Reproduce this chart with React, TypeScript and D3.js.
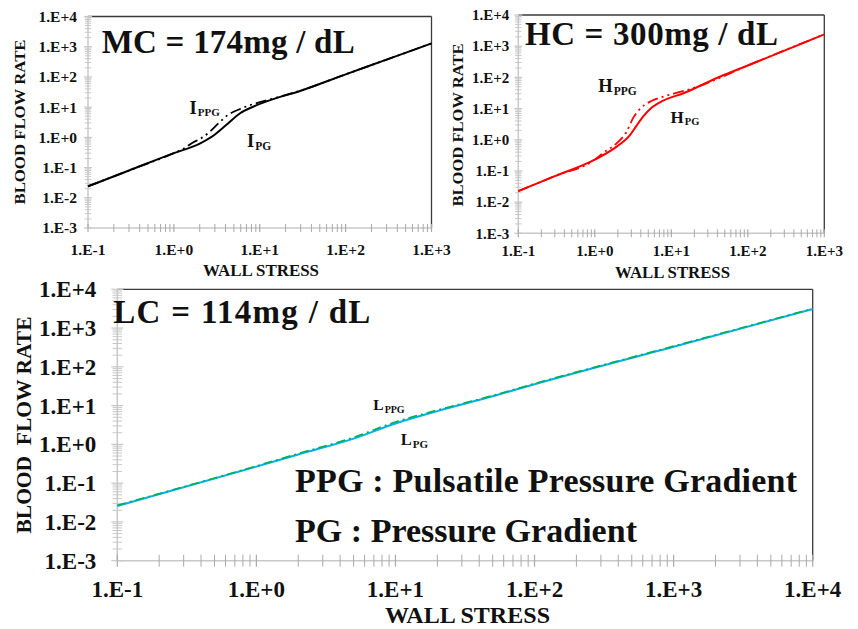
import React from "react";
import * as d3 from "d3";

// ---------- data ----------
const Y_TICKS = [1e-3, 1e-2, 1e-1, 1, 10, 100, 1000, 10000];
const Y_LABELS = ["1.E-3", "1.E-2", "1.E-1", "1.E+0", "1.E+1", "1.E+2", "1.E+3", "1.E+4"];
const X_TICKS_TOP = [0.1, 1, 10, 100, 1000];
const X_LABELS_TOP = ["1.E-1", "1.E+0", "1.E+1", "1.E+2", "1.E+3"];
const X_TICKS_BOTTOM = [0.1, 1, 10, 100, 1000, 10000];
const X_LABELS_BOTTOM = ["1.E-1", "1.E+0", "1.E+1", "1.E+2", "1.E+3", "1.E+4"];

const MC_PG_X = [0.1, 0.3, 1, 2, 2.9, 4.1, 5.9, 8.5, 12, 30, 100, 300, 1000];
const MC_PG_Y = [0.024, 0.08, 0.3, 0.62, 1.15, 2.6, 6.3, 10.5, 15.5, 35, 122, 373, 1290];
const MC_PPG_X = [0.1, 0.3, 1, 1.3, 1.6, 2.1, 2.6, 3.3, 4.3, 5.9, 7.4, 10, 16, 30, 100, 300, 1000];
const MC_PPG_Y = [0.024, 0.08, 0.3, 0.42, 0.63, 0.95, 1.5, 2.9, 5.6, 8.7, 11.2, 14.6, 21, 35.5, 122, 373, 1290];

const HC_PG_X = [0.1, 0.3, 1, 1.93, 2.88, 3.5, 4.3, 5.25, 7.85, 14.4, 43, 100, 1000];
const HC_PG_Y = [0.0225, 0.0683, 0.23, 0.6, 1.4, 2.8, 5.6, 9.5, 18, 31, 105, 240, 2400];
const HC_PPG_X = [0.1, 0.3, 1, 1.29, 1.93, 2.6, 3.2, 4.1, 5.5, 8.3, 11.7, 17.5, 30, 100, 1000];
const HC_PPG_Y = [0.0225, 0.0683, 0.23, 0.38, 0.77, 1.8, 5.2, 11, 17.5, 25, 32, 42, 67, 240, 2400];

const LC_PG_X = [0.1, 1, 2, 5, 10, 20, 50, 100, 1000, 10000];
const LC_PG_Y = [0.0257, 0.267, 0.55, 1.41, 3.47, 7.2, 17.4, 35.5, 330, 3090];
const LC_PPG_X = [0.1, 1, 2, 5, 10, 20, 50, 100, 1000, 10000];
const LC_PPG_Y = [0.0268, 0.278, 0.58, 1.52, 3.8, 7.7, 18.2, 37, 342, 3170];

const FONT = "'Liberation Serif', 'Times New Roman', serif";

type Series = { xs: number[]; ys: number[]; color: string; dash?: string; width: number };
type Label = { x: number; y: number; main: string; sub: string; size: number; subSize: number; subDy: number };

type PanelCfg = {
  left: number; right: number; top: number; bottom: number;
  xTicks: number[]; xLabels: string[];
  tickFont: number; xLabelY: number; yLabelGap: number;
  tickLen: number;
  xTitleX: number; xTitleY: number; xTitleSize: number; xTitleLen: number;
  yTitleX: number; yTitleY: number; yTitleSize: number; yTitleLen: number; yTitle: string;
  series: Series[];
  labels: Label[];
};

const MULTS = [2, 3, 4, 5, 6, 7, 8, 9];

function Panel({ c }: { c: PanelCfg }) {
  const xDom: [number, number] = [c.xTicks[0], c.xTicks[c.xTicks.length - 1]];
  const x = d3.scaleLog().domain(xDom).range([c.left, c.right]);
  const y = d3.scaleLog().domain([Y_TICKS[0], Y_TICKS[Y_TICKS.length - 1]]).range([c.bottom, c.top]);
  const line = d3
    .line<[number, number]>()
    .x((d) => x(d[0]))
    .y((d) => y(d[1]))
    .curve(d3.curveMonotoneX);
  const minorX = c.xTicks.slice(0, -1).flatMap((d) => MULTS.map((m) => d * m));
  const minorY = Y_TICKS.slice(0, -1).flatMap((d) => MULTS.map((m) => d * m));
  const axisColor = "#c8c8c8";
  const tl = c.tickLen;
  return (
    <g>
      <line x1={c.left} x2={c.right} y1={c.top} y2={c.top} stroke="#3a3a3a" strokeWidth={1.3} />
      <line x1={c.right} x2={c.right} y1={c.top} y2={c.bottom} stroke="#3a3a3a" strokeWidth={1.3} />
      <line x1={c.left} x2={c.right} y1={c.bottom} y2={c.bottom} stroke={axisColor} strokeWidth={1.5} />
      <line x1={c.left} x2={c.left} y1={c.top} y2={c.bottom} stroke={axisColor} strokeWidth={1.5} />
      {minorY.map((v, i) => (
        <line key={"my" + i} x1={c.left - tl * 0.8} x2={c.left + tl * 0.8} y1={y(v)} y2={y(v)} stroke={axisColor} strokeWidth={1} />
      ))}
      {Y_TICKS.map((v, i) => (
        <line key={"Y" + i} x1={c.left - tl} x2={c.left + tl} y1={y(v)} y2={y(v)} stroke={axisColor} strokeWidth={1.2} />
      ))}
      {minorX.map((v, i) => (
        <line key={"mx" + i} x1={x(v)} x2={x(v)} y1={c.bottom - tl} y2={c.bottom + tl} stroke="#aaaaaa" strokeWidth={1} />
      ))}
      {c.xTicks.map((v, i) => (
        <line key={"X" + i} x1={x(v)} x2={x(v)} y1={c.bottom - tl} y2={c.bottom + tl} stroke="#aaaaaa" strokeWidth={1.2} />
      ))}
      {Y_TICKS.map((v, i) => (
        <text key={"yl" + i} x={c.left - c.yLabelGap} y={y(v)} dy="0.35em" textAnchor="end"
          fontFamily={FONT} fontWeight="bold" fontSize={c.tickFont} fill="#111">
          {Y_LABELS[i]}
        </text>
      ))}
      {c.xTicks.map((v, i) => (
        <text key={"xl" + i} x={x(v)} y={c.xLabelY} textAnchor="middle"
          fontFamily={FONT} fontWeight="bold" fontSize={c.tickFont} fill="#111">
          {c.xLabels[i]}
        </text>
      ))}
      <text x={c.xTitleX} y={c.xTitleY} textAnchor="middle" fontFamily={FONT} fontWeight="bold"
        fontSize={c.xTitleSize} textLength={c.xTitleLen} lengthAdjust="spacingAndGlyphs" fill="#111">
        WALL STRESS
      </text>
      <text transform={`translate(${c.yTitleX},${c.yTitleY}) rotate(-90)`} textAnchor="middle"
        fontFamily={FONT} fontWeight="bold" fontSize={c.yTitleSize} textLength={c.yTitleLen}
        lengthAdjust="spacingAndGlyphs" fill="#111" style={{ whiteSpace: "pre" }}>
        {c.yTitle}
      </text>
      {c.series.map((s, i) => (
        <path key={"s" + i} d={line(s.xs.map((v, j) => [v, s.ys[j]] as [number, number])) || ""}
          fill="none" stroke={s.color} strokeWidth={s.width} strokeDasharray={s.dash} />
      ))}
      {c.labels.map((l, i) => (
        <text key={"lab" + i} x={l.x} y={l.y} fontFamily={FONT} fontWeight="bold" fontSize={l.size} fill="#111">
          {l.main}
          <tspan fontSize={l.subSize} dx={1} dy={l.subDy}>{l.sub}</tspan>
        </text>
      ))}
    </g>
  );
}

const DASH = "11,4,2,4,2,4";

const MC: PanelCfg = {
  left: 88, right: 431.5, top: 16.5, bottom: 228,
  xTicks: X_TICKS_TOP, xLabels: X_LABELS_TOP,
  tickFont: 15.5, xLabelY: 255, yLabelGap: 11, tickLen: 4,
  xTitleX: 261, xTitleY: 276, xTitleSize: 16, xTitleLen: 116,
  yTitleX: 25, yTitleY: 122, yTitleSize: 15.5, yTitleLen: 165, yTitle: "BLOOD FLOW RATE",
  series: [
    { xs: MC_PPG_X, ys: MC_PPG_Y, color: "#000", dash: DASH, width: 1.8 },
    { xs: MC_PG_X, ys: MC_PG_Y, color: "#000", width: 2 },
  ],
  labels: [
    { x: 189.5, y: 114, main: "I", sub: "PPG", size: 18.5, subSize: 11, subDy: 2 },
    { x: 247, y: 146.5, main: "I", sub: "PG", size: 18.5, subSize: 11.5, subDy: 3 },
  ],
};

const HC: PanelCfg = {
  left: 518.3, right: 824.3, top: 15, bottom: 233.3,
  xTicks: X_TICKS_TOP, xLabels: X_LABELS_TOP,
  tickFont: 15, xLabelY: 256, yLabelGap: 9, tickLen: 4,
  xTitleX: 672.5, xTitleY: 278, xTitleSize: 16, xTitleLen: 115,
  yTitleX: 463, yTitleY: 125, yTitleSize: 15.5, yTitleLen: 163, yTitle: "BLOOD FLOW RATE",
  series: [
    { xs: HC_PPG_X, ys: HC_PPG_Y, color: "#ff0000", dash: DASH, width: 1.8 },
    { xs: HC_PG_X, ys: HC_PG_Y, color: "#ff0000", width: 2 },
  ],
  labels: [
    { x: 598.3, y: 91.5, main: "H", sub: "PPG", size: 18.5, subSize: 11.5, subDy: 3.5 },
    { x: 670.5, y: 123.3, main: "H", sub: "PG", size: 17, subSize: 10.5, subDy: 2 },
  ],
};

const LC: PanelCfg = {
  left: 117.3, right: 812.7, top: 289.3, bottom: 560.7,
  xTicks: X_TICKS_BOTTOM, xLabels: X_LABELS_BOTTOM,
  tickFont: 23, xLabelY: 597, yLabelGap: 21, tickLen: 6,
  xTitleX: 467.5, xTitleY: 623, xTitleSize: 23.5, xTitleLen: 165,
  yTitleX: 31, yTitleY: 425, yTitleSize: 20, yTitleLen: 217, yTitle: "BLOOD  FLOW RATE",
  series: [
    { xs: LC_PG_X, ys: LC_PG_Y, color: "#00b0f0", width: 2 },
    { xs: LC_PPG_X, ys: LC_PPG_Y, color: "#00b050", dash: "9,4,2,4", width: 1.6 },
  ],
  labels: [
    { x: 373.3, y: 410, main: "L", sub: "PPG", size: 15.5, subSize: 10, subDy: 3 },
    { x: 400.7, y: 445, main: "L", sub: "PG", size: 16.5, subSize: 11, subDy: 3 },
  ],
};

export default function App() {
  return (
    <div style={{ position: "absolute", left: 0, top: 0 }}>
      <svg width={858} height={629} style={{ display: "block", background: "#fff" }}>
        <rect x={0} y={0} width={858} height={629} fill="#fff" />
        <Panel c={MC} />
        <Panel c={HC} />
        <Panel c={LC} />
        <text x={101.7} y={53} fontFamily={FONT} fontWeight="bold" fontSize={33} textLength={253} lengthAdjust="spacing" fill="#111">
          MC = 174mg / dL
        </text>
        <text x={525} y={45} fontFamily={FONT} fontWeight="bold" fontSize={33} textLength={253} lengthAdjust="spacing" fill="#111">
          HC = 300mg / dL
        </text>
        <text x={113.3} y={323.3} fontFamily={FONT} fontWeight="bold" fontSize={33} textLength={257} lengthAdjust="spacing" fill="#111">
          LC = 114mg / dL
        </text>
        <text x={295} y={491.7} fontFamily={FONT} fontWeight="bold" fontSize={34} textLength={502} lengthAdjust="spacing" fill="#111">
          PPG : Pulsatile Pressure Gradient
        </text>
        <text x={295} y={541.7} fontFamily={FONT} fontWeight="bold" fontSize={34} textLength={342} lengthAdjust="spacing" fill="#111">
          PG : Pressure Gradient
        </text>
      </svg>
    </div>
  );
}
